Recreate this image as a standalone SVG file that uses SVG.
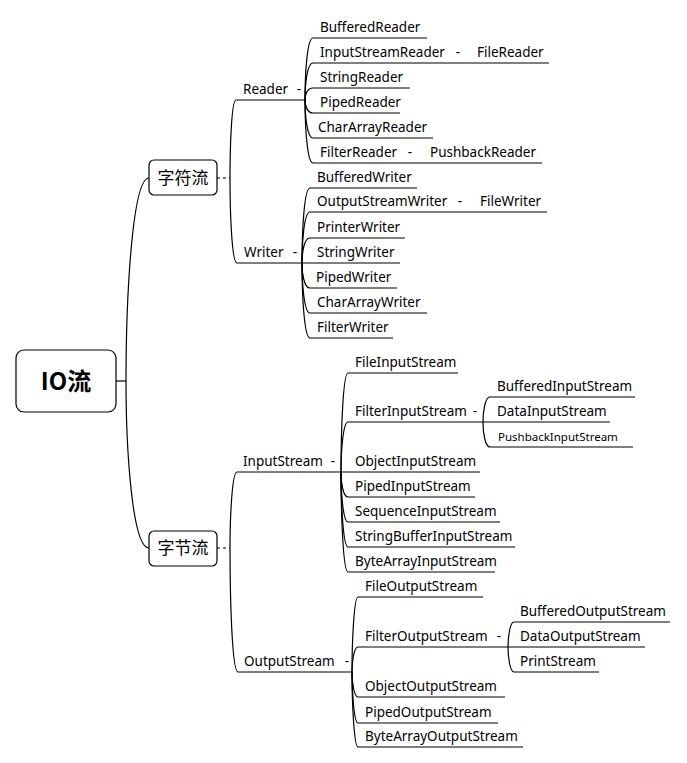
<svg xmlns="http://www.w3.org/2000/svg" width="687" height="763" viewBox="0 0 687 763">
<style>
text{font-family:"Noto Sans","Open Sans",sans-serif;font-size:13.5px;fill:#000}
.cn{font-family:"Noto Sans CJK SC","Noto Sans",sans-serif}
.mk{text-anchor:middle}
.sm{font-size:11.5px}
.c{fill:none;stroke:#000;stroke-width:1.2}
.d{fill:none;stroke:#000;stroke-width:1;stroke-dasharray:3 3}
.box{fill:#fff;stroke:#000;stroke-width:1.2}
</style>
<rect width="687" height="763" fill="#fff"/>
<g id="connectors">
<path class="c" d="M116,381 H126"/>
<path class="c" d="M126,381 C126,300 132,178 149,178"/>
<path class="c" d="M126,381 C126,448 132,548 149,548"/>
<path class="d" d="M217,178 H230"/>
<path class="d" d="M217,548 H230"/>
<path class="c" d="M230,178 C230,147 231.5,100 236,100"/>
<path class="c" d="M230,178 C230,212 231.75,263 237,263"/>
<path class="c" d="M230,548 C230,518 232,472 237,472"/>
<path class="c" d="M230,548 C230,598 232,672 238,672"/>
<path class="c" d="M305,100 C305,75 307,38 313,38"/>
<path class="c" d="M305,100 C305,85 307,63 313,63"/>
<path class="c" d="M305,100 C305,95 307,88 313,88"/>
<path class="c" d="M305,100 C305,105 307,113 313,113"/>
<path class="c" d="M305,100 C305,115 307,138 313,138"/>
<path class="c" d="M305,100 C305,125 307,163 313,163"/>
<path class="c" d="M302,263 C302,233 304,188 310,188"/>
<path class="c" d="M302,263 C302,243 304,212 310,212"/>
<path class="c" d="M302,263 C302,253 304,238 310,238"/>
<path class="c" d="M302,263 C302,273 304,288 310,288"/>
<path class="c" d="M302,263 C302,283 304,313 310,313"/>
<path class="c" d="M302,263 C302,293 304,338 310,338"/>
<path class="c" d="M341,472 C341,432 343,373 348,373"/>
<path class="c" d="M341,472 C341,452 343,422 348,422"/>
<path class="c" d="M341,472 C341,482 343,497 348,497"/>
<path class="c" d="M341,472 C341,492 343,522 348,522"/>
<path class="c" d="M341,472 C341,502 343,547 348,547"/>
<path class="c" d="M341,472 C341,512 343,572 348,572"/>
<path class="c" d="M483,422 C483,412 485,397 490,397"/>
<path class="c" d="M483,422 C483,432 485,447 490,447"/>
<path class="c" d="M352,672 C352,642 354,597 358,597"/>
<path class="c" d="M352,672 C352,662 354,647 358,647"/>
<path class="c" d="M352,672 C352,682 354,697 358,697"/>
<path class="c" d="M352,672 C352,692 354,723 358,723"/>
<path class="c" d="M352,672 C352,702 354,747 358,747"/>
<path class="c" d="M508,647 C508,637 510,622 514,622"/>
<path class="c" d="M508,647 C508,657 510,672 514,672"/>
</g>
<g id="root">
<rect class="box" x="16" y="350" width="100" height="62" rx="8"/>
<text class="cn" x="66" y="390" text-anchor="middle" style="font-size:24px;font-weight:bold">IO流</text>
</g>
<g id="char-stream">
<rect class="box" x="149" y="160" width="68" height="35" rx="5"/>
<text class="cn" x="183" y="184" text-anchor="middle" style="font-size:17px">字符流</text>
</g>
<g id="byte-stream">
<rect class="box" x="149" y="531" width="68" height="35" rx="5"/>
<text class="cn" x="183" y="554" text-anchor="middle" style="font-size:17px">字节流</text>
</g>
<g id="reader"><text x="243" y="94">Reader</text><text class="mk" x="299" y="94">-</text><path class="c" d="M236,100 H305"/></g>
<g id="writer"><text x="244" y="257">Writer</text><text class="mk" x="295" y="257">-</text><path class="c" d="M237,263 H302"/></g>
<g id="inputstream"><text x="243" y="466">InputStream</text><text class="mk" x="333" y="466">-</text><path class="c" d="M237,472 H341"/></g>
<g id="outputstream"><text x="244" y="666">OutputStream</text><text class="mk" x="347" y="666">-</text><path class="c" d="M238,672 H352"/></g>
<g id="bufferedreader"><text x="320" y="32">BufferedReader</text><path class="c" d="M313,38 H427"/></g>
<g id="inputstreamreader"><text x="320" y="57">InputStreamReader</text><text class="mk" x="458" y="57">-</text><path class="c" d="M313,63 H470"/></g>
<g id="filereader"><text x="477" y="57">FileReader</text><path class="c" d="M470,63 H549"/></g>
<g id="stringreader"><text x="320" y="82">StringReader</text><path class="c" d="M313,88 H410"/></g>
<g id="pipedreader"><text x="320" y="107">PipedReader</text><path class="c" d="M313,113 H400"/></g>
<g id="chararrayreader"><text x="318" y="132">CharArrayReader</text><path class="c" d="M313,138 H433"/></g>
<g id="filterreader"><text x="320" y="157">FilterReader</text><text class="mk" x="410" y="157">-</text><path class="c" d="M313,163 H422"/></g>
<g id="pushbackreader"><text x="430" y="157">PushbackReader</text><path class="c" d="M422,163 H542"/></g>
<g id="bufferedwriter"><text x="317" y="182">BufferedWriter</text><path class="c" d="M310,188 H417"/></g>
<g id="outputstreamwriter"><text x="317" y="206">OutputStreamWriter</text><text class="mk" x="460" y="206">-</text><path class="c" d="M310,212 H472"/></g>
<g id="filewriter"><text x="480" y="206">FileWriter</text><path class="c" d="M472,212 H547"/></g>
<g id="printerwriter"><text x="317" y="232">PrinterWriter</text><path class="c" d="M310,238 H405"/></g>
<g id="stringwriter"><text x="317" y="257">StringWriter</text><path class="c" d="M302,263 H400"/></g>
<g id="pipedwriter"><text x="316" y="282">PipedWriter</text><path class="c" d="M310,288 H397"/></g>
<g id="chararraywriter"><text x="317" y="307">CharArrayWriter</text><path class="c" d="M310,313 H427"/></g>
<g id="filterwriter"><text x="317" y="332">FilterWriter</text><path class="c" d="M310,338 H393"/></g>
<g id="fileinputstream"><text x="355" y="367">FileInputStream</text><path class="c" d="M348,373 H458"/></g>
<g id="filterinputstream"><text x="355" y="416">FilterInputStream</text><text class="mk" x="475" y="416">-</text><path class="c" d="M348,422 H483"/></g>
<g id="bufferedinputstream"><text x="497" y="391">BufferedInputStream</text><path class="c" d="M490,397 H635"/></g>
<g id="datainputstream"><text x="497" y="416">DataInputStream</text><path class="c" d="M483,422 H610"/></g>
<g id="pushbackinputstream"><text class="sm" x="498" y="441">PushbackInputStream</text><path class="c" d="M490,447 H633"/></g>
<g id="objectinputstream"><text x="355" y="466">ObjectInputStream</text><path class="c" d="M341,472 H480"/></g>
<g id="pipedinputstream"><text x="355" y="491">PipedInputStream</text><path class="c" d="M348,497 H475"/></g>
<g id="sequenceinputstream"><text x="355" y="516">SequenceInputStream</text><path class="c" d="M348,522 H500"/></g>
<g id="stringbufferinputstream"><text x="355" y="541">StringBufferInputStream</text><path class="c" d="M348,547 H515"/></g>
<g id="bytearrayinputstream"><text x="355" y="566">ByteArrayInputStream</text><path class="c" d="M348,572 H495"/></g>
<g id="fileoutputstream"><text x="365" y="591">FileOutputStream</text><path class="c" d="M358,597 H483"/></g>
<g id="filteroutputstream"><text x="365" y="641">FilterOutputStream</text><text class="mk" x="499" y="641">-</text><path class="c" d="M358,647 H508"/></g>
<g id="bufferedoutputstream"><text x="520" y="616">BufferedOutputStream</text><path class="c" d="M514,622 H670"/></g>
<g id="dataoutputstream"><text x="520" y="641">DataOutputStream</text><path class="c" d="M508,647 H645"/></g>
<g id="printstream"><text x="520" y="666">PrintStream</text><path class="c" d="M514,672 H599"/></g>
<g id="objectoutputstream"><text x="365" y="691">ObjectOutputStream</text><path class="c" d="M358,697 H505"/></g>
<g id="pipedoutputstream"><text x="365" y="717">PipedOutputStream</text><path class="c" d="M358,723 H498"/></g>
<g id="bytearrayoutputstream"><text x="365" y="741">ByteArrayOutputStream</text><path class="c" d="M358,747 H523"/></g>
</svg>
